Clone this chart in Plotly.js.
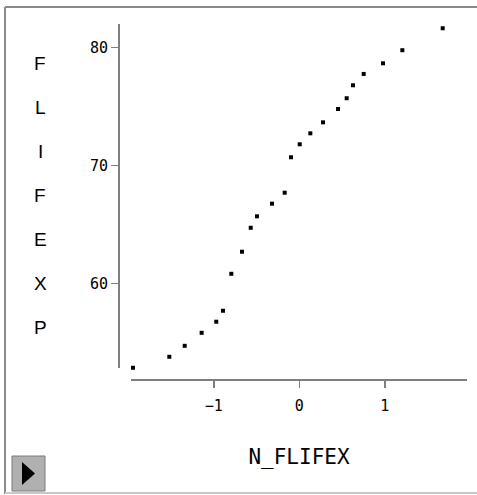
<!DOCTYPE html>
<html>
<head>
<meta charset="utf-8">
<script src="https://cdn.plot.ly/plotly-3.0.1.min.js"></script>
<style>html,body{margin:0;padding:0;background:#fff;}#chart{width:477px;height:495px;}</style>
</head>
<body>
<div id="chart"></div>
<script>
// Normal scores (x) and female life expectancy (y)
const nScores = [-1.945, -1.520, -1.340, -1.142, -0.971, -0.892, -0.795, -0.670, -0.568, -0.495,
                 -0.319, -0.171, -0.097, 0.005, 0.129, 0.277, 0.453, 0.554, 0.628, 0.753,
                 0.979, 1.205, 1.677];
const flifexp = [52.85, 53.78, 54.71, 55.81, 56.75, 57.68, 60.81, 62.68, 64.71, 65.68,
                 66.75, 67.68, 70.68, 71.78, 72.71, 73.64, 74.77, 75.68, 76.78, 77.74,
                 78.64, 79.75, 81.61];
const xTickVals = [-1, 0, 1];
const xTickText = ['\u22121', '0', '1'];
const yTickVals = [60, 70, 80];
const xTitle = 'N_FLIFEX';
const yTitle = 'FLIFEXP';

// pixel helpers (plot area: x 119..467, y 24..380)
const W = 477, H = 495, L = 119, R = 10, T = 24, B = 115;
const pw = W - L - R, ph = H - T - B;
const px = v => (v - L) / pw;
const py = v => (H - B - v) / ph;

const annotations = yTitle.split('').map((ch, i) => ({
  text: ch, xref: 'paper', yref: 'paper', x: px(40), y: py(63 + i * 44.1),
  xanchor: 'center', yanchor: 'middle', showarrow: false,
  font: {family: 'Liberation Sans, Arial, sans-serif', size: 19, color: '#000'}
}));

const frameLine = (x0, y0, x1, y1, c) => ({type: 'line', xref: 'paper', yref: 'paper',
  x0: px(x0), y0: py(y0), x1: px(x1), y1: py(y1), line: {color: c, width: 2}});

const shapes = [
  frameLine(5, 7, 477, 7, '#8a8a8a'),
  frameLine(5, 7, 5, 494, '#8a8a8a'),
  frameLine(5, 493, 477, 493, '#c8c8c8'),
  {type: 'rect', xref: 'paper', yref: 'paper', x0: px(12), x1: px(45), y0: py(491), y1: py(456),
   fillcolor: '#b0b0b0', line: {color: '#7a7a7a', width: 1}},
  {type: 'path', xref: 'paper', yref: 'paper',
   path: `M ${px(22)} ${py(462)} L ${px(35)} ${py(473.5)} L ${px(22)} ${py(485)} Z`,
   fillcolor: '#000', line: {color: '#000', width: 0}}
];

const trace = {
  x: nScores, y: flifexp, type: 'scatter', mode: 'markers', cliponaxis: false,
  marker: {symbol: 'square', size: 4, color: '#000', line: {width: 0}}
};

const layout = {
  width: W, height: H, margin: {l: L, r: R, t: T, b: B},
  paper_bgcolor: '#fff', plot_bgcolor: '#fff', showlegend: false,
  font: {family: 'DejaVu Sans Mono, monospace', size: 14, color: '#000'},
  xaxis: {
    domain: [px(131), 1], range: [-1.968, 1.961], anchor: 'free', position: 0,
    showline: true, linecolor: '#7f7f7f', linewidth: 2, showgrid: false, zeroline: false,
    ticks: 'outside', ticklen: 7, tickwidth: 1.5, tickcolor: '#7f7f7f',
    tickvals: xTickVals, ticktext: xTickText, ticklabelstandoff: 5,
    tickfont: {family: 'DejaVu Sans Mono, monospace', size: 15, color: '#000'},
    title: {text: xTitle, standoff: 34, font: {family: 'DejaVu Sans Mono, monospace', size: 21, color: '#000'}}
  },
  yaxis: {
    domain: [py(368), 1], range: [52.83, 81.97], anchor: 'free', position: 0,
    showline: true, linecolor: '#7f7f7f', linewidth: 2, showgrid: false, zeroline: false,
    ticks: 'outside', ticklen: 7, tickwidth: 1.5, tickcolor: '#7f7f7f',
    tickvals: yTickVals, ticklabelstandoff: 0,
    tickfont: {family: 'DejaVu Sans Mono, monospace', size: 15, color: '#000'}
  },
  annotations: annotations,
  shapes: shapes
};

Plotly.newPlot('chart', [trace], layout, {displayModeBar: false, staticPlot: true});
</script>
</body>
</html>
